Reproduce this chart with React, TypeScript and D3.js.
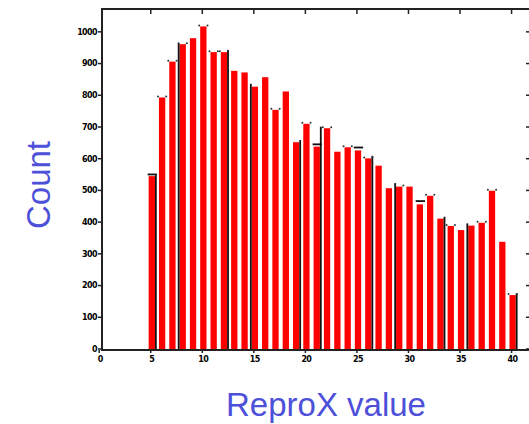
import React from "react";
import * as d3 from "d3";

// histogram bins (ReproX value) and counts
const bins = [5, 6, 7, 8, 9, 10, 11, 12, 13, 14, 15, 16, 17, 18, 19, 20, 21, 22, 23, 24, 25, 26, 27, 28, 29, 30, 31, 32, 33, 34, 35, 36, 37, 38, 39, 40];
const counts = [545, 793, 906, 961, 980, 1017, 936, 936, 877, 872, 827, 857, 754, 812, 652, 710, 638, 696, 622, 636, 626, 601, 578, 507, 512, 512, 456, 483, 411, 388, 375, 389, 398, 499, 338, 170];

// black step edges of the overlaid reference histogram
const edgeBins = [5, 8, 12, 15, 19, 21, 26, 29, 33, 36, 40];
const edgeSides = ["r", "l", "r", "l", "r", "r", "r", "l", "r", "l", "r"];
const edgeCounts = [548, 964, 943, 836, 659, 701, 609, 523, 417, 396, 176];
const capBins = [5, 21, 25, 31];
const capCounts = [550, 645, 635, 466];

// little error markers at bar tops
const dotBins = [6, 7, 8, 10, 11, 12, 17, 20, 22, 24, 26, 29, 32, 34, 37, 38, 40];

const xTicks = [0, 5, 10, 15, 20, 25, 30, 35, 40];
const yTicks = [0, 100, 200, 300, 400, 500, 600, 700, 800, 900, 1000];

const W = 529;
const H = 424;
const left = 102;
const top = 9;
const bottom = 349;
const blue = "#4d50d8";

export default function App() {
  const x = d3.scaleLinear().domain([0, 41.7]).range([99.2, 529.1]);
  const y = d3.scaleLinear().domain([0, 1072]).range([bottom, top]);
  const bw = 6.3;
  const bx = (v: number) => x(v) - 2.1;

  return (
    <svg
      width={W}
      height={H}
      style={{ position: "absolute", left: 0, top: 0, background: "#fff" }}
    >
      {/* bars */}
      {bins.map((b, i) => (
        <rect
          key={b}
          x={bx(b)}
          y={y(counts[i])}
          width={bw}
          height={bottom - y(counts[i])}
          fill="#ff0000"
        />
      ))}
      {edgeBins.map((b, i) => (
        <rect
          key={"e" + b}
          x={edgeSides[i] === "l" ? bx(b) - 1.8 : bx(b) + bw}
          y={y(edgeCounts[i])}
          width={1.8}
          height={bottom - y(edgeCounts[i])}
          fill="#111"
        />
      ))}
      {capBins.map((b, i) => (
        <rect
          key={"c" + b}
          x={bx(b) - 1}
          y={y(capCounts[i]) - 1}
          width={bw + 3}
          height={1.8}
          fill="#111"
        />
      ))}
      {dotBins.map((b) => {
        const v = counts[bins.indexOf(b)];
        return (
          <g key={"d" + b} fill="#333">
            <circle cx={bx(b) - 1} cy={y(v) - 1} r={1} />
            <circle cx={bx(b) + bw + 1} cy={y(v) - 1} r={1} />
          </g>
        );
      })}

      {/* frame */}
      <line x1={left} x2={W} y1={top} y2={top} stroke="#222" strokeWidth={2} />
      <line x1={left} x2={W} y1={bottom + 1} y2={bottom + 1} stroke="#222" strokeWidth={2} />
      <line x1={left} x2={left} y1={top - 1} y2={bottom + 2} stroke="#222" strokeWidth={2} />

      {/* y ticks */}
      {yTicks.map((t) => (
        <g key={"y" + t}>
          <line x1={left - 4} x2={left} y1={y(t)} y2={y(t)} stroke="#222" strokeWidth={1.5} />
          <line x1={W - 3} x2={W} y1={y(t)} y2={y(t)} stroke="#222" strokeWidth={1.5} />
          <text
            x={left - 5}
            y={y(t) + 2.8}
            textAnchor="end"
            fontSize={8}
            fontWeight="bold"
            fontFamily="DejaVu Sans"
            letterSpacing={-0.6}
            fill="#000"
          >
            {t}
          </text>
        </g>
      ))}

      {/* x ticks */}
      {xTicks.map((t) => (
        <g key={"x" + t}>
          {t > 0 && (
            <line x1={x(t)} x2={x(t)} y1={top} y2={top + 5} stroke="#222" strokeWidth={1.5} />
          )}
          <line x1={x(t)} x2={x(t)} y1={bottom + 1} y2={bottom + 4} stroke="#222" strokeWidth={1.5} />
          <text
            x={x(t) + 1}
            y={bottom + 13}
            textAnchor="middle"
            fontSize={8}
            fontWeight="bold"
            fontFamily="DejaVu Sans"
            letterSpacing={-0.6}
            fill="#000"
          >
            {t}
          </text>
        </g>
      ))}

      {/* axis titles */}
      <text
        x={326}
        y={416}
        textAnchor="middle"
        fontSize={33}
        fontFamily="Liberation Sans, Arial, sans-serif"
        fill={blue}
      >
        ReproX value
      </text>
      <text
        transform="translate(50,185) rotate(-90)"
        textAnchor="middle"
        fontSize={33}
        fontFamily="Liberation Sans, Arial, sans-serif"
        fill={blue}
      >
        Count
      </text>
    </svg>
  );
}
